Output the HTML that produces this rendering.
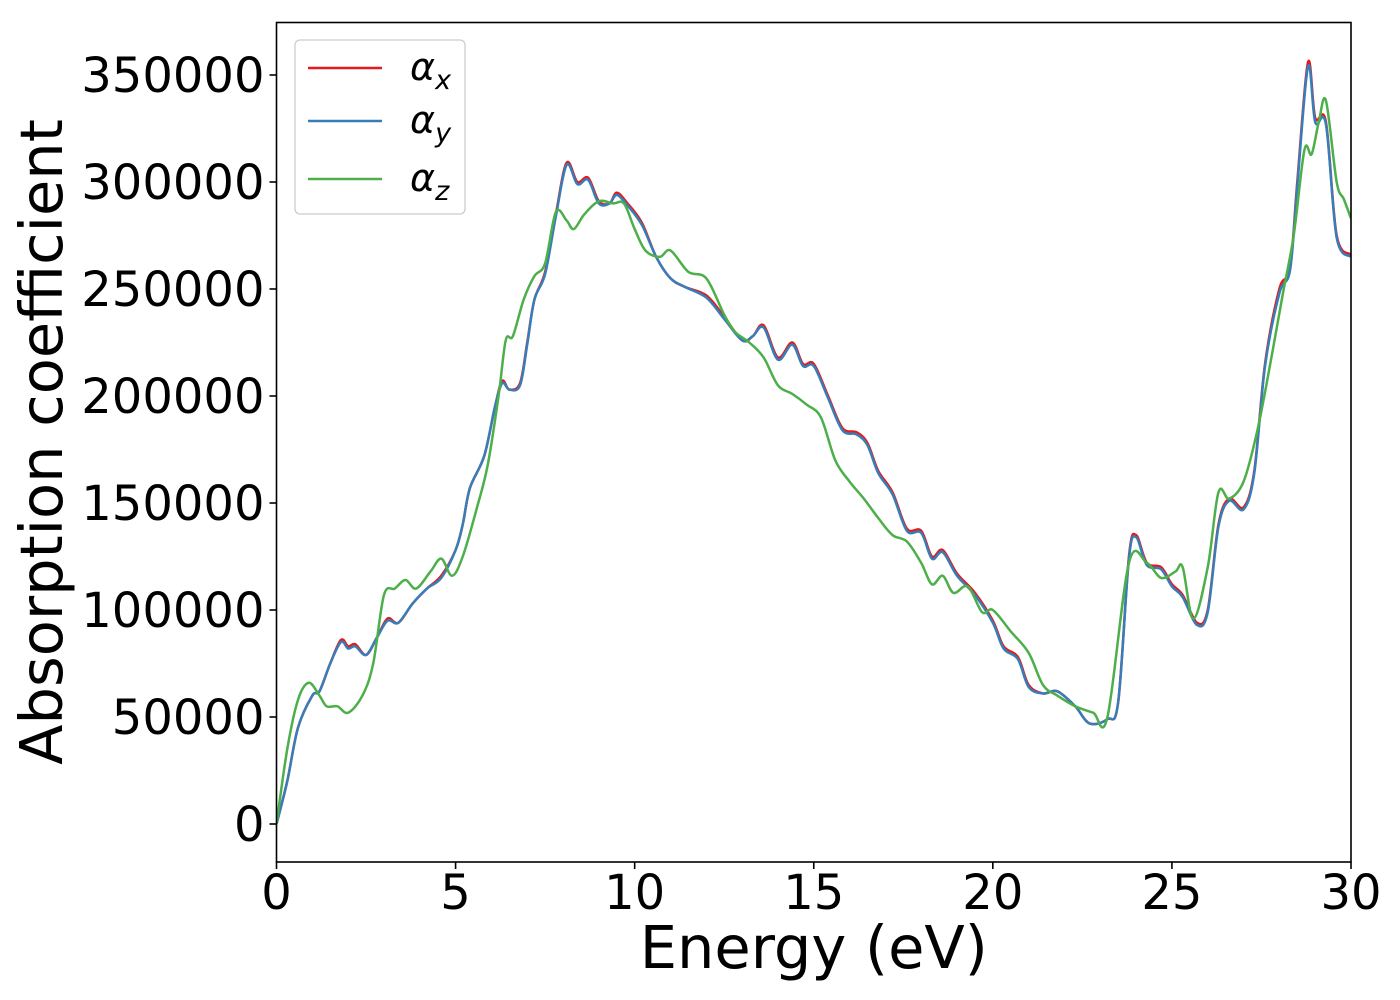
<!DOCTYPE html>
<html><head><meta charset="utf-8"><style>
html,body{margin:0;padding:0;background:#fff;}
svg{display:block;font-family:"DejaVu Sans","Liberation Sans",sans-serif;}
</style></head><body>
<svg id="chart" width="1400" height="1000" viewBox="0 0 1400 1000" xmlns="http://www.w3.org/2000/svg">
<g id="plot"></g>
</svg>
<script>
const xTicks = [0,5,10,15,20,25,30];
const yTicks = [0,50000,100000,150000,200000,250000,300000,350000];
const seriesNames = ["x","y","z"];
const energyX = [0,0.3,0.6,1,1.2,1.5,1.8,2.0,2.2,2.5,2.8,3.1,3.4,3.8,4.2,4.6,5.0,5.2,5.4,5.8,6.1,6.3,6.5,6.8,7.0,7.2,7.5,7.8,8.1,8.4,8.7,9.0,9.3,9.5,9.8,10.2,10.6,11.0,11.4,12.0,12.5,13.0,13.3,13.6,14.0,14.4,14.7,15.0,15.4,15.8,16.2,16.5,16.8,17.2,17.6,18.0,18.3,18.6,19.0,19.5,20.0,20.3,20.7,21.0,21.4,21.8,22.3,22.7,23.2,23.5,23.8,24.0,24.3,24.7,25.0,25.3,25.7,26.0,26.3,26.6,27.0,27.3,27.6,28.0,28.3,28.5,28.8,29.0,29.3,29.6,30];
const alphaX = [0,20000,45000,60000,62000,75000,86000,83000,84000,79000,87000,96000,94000,103000,110000,116000,128000,140000,157000,172000,195000,207000,203000,206000,225000,245000,258000,285000,309000,300000,302000,291000,290000,295000,290000,281000,265000,255000,251000,247000,237000,226000,228000,233000,218000,225000,215000,215000,200000,185000,183000,178000,165000,155000,138000,137000,125000,128000,117000,108000,95000,83000,78000,65000,61000,62000,55000,47000,49000,57000,125000,135000,122000,120000,112000,107000,94000,100000,140000,152000,148000,165000,215000,250000,260000,300000,356000,330000,328000,275000,266000];
const alphaY = [0,20000,45000,60000,62000,75000,85000,82000,83000,79000,87000,95000,94000,103000,110000,115000,128000,140000,157000,172000,195000,206000,203000,205000,224000,245000,257000,284000,308000,299000,301000,290000,290000,294000,289000,280000,265000,255000,251000,246000,236000,226000,228000,232000,217000,224000,214000,214000,199000,184000,182000,177000,164000,154000,137000,136000,124000,127000,116000,107000,94000,82000,77000,64000,61000,62000,55000,47000,49000,57000,124000,134000,121000,119000,111000,106000,93000,99000,139000,151000,147000,164000,214000,248000,259000,298000,354000,328000,327000,274000,265000];
const energyZ = [0,0.3,0.6,0.9,1.2,1.4,1.7,2.0,2.4,2.7,3.0,3.3,3.6,3.9,4.3,4.6,4.9,5.2,5.6,5.9,6.2,6.4,6.6,6.9,7.2,7.5,7.8,8.1,8.3,8.6,9.0,9.4,9.7,10.0,10.3,10.7,11.0,11.5,12.0,12.5,12.8,13.2,13.6,14.0,14.4,14.8,15.2,15.6,16.0,16.4,16.8,17.2,17.6,18.0,18.3,18.6,18.9,19.3,19.7,20.0,20.5,21.0,21.4,21.8,22.3,22.8,23.2,23.8,24.3,24.7,25.1,25.3,25.6,26.0,26.3,26.6,27.0,27.4,27.8,28.1,28.4,28.7,28.9,29.1,29.3,29.6,29.8,30];
const alphaZ = [0,35000,58000,66000,60000,55000,55000,52000,60000,75000,107000,110000,114000,110000,118000,124000,116000,125000,148000,168000,200000,226000,228000,245000,256000,262000,286000,282000,278000,285000,291000,290000,290000,278000,268000,265000,268000,258000,255000,238000,230000,225000,218000,205000,201000,196000,190000,170000,160000,152000,143000,135000,132000,122000,112000,116000,108000,111000,99000,100000,90000,80000,65000,60000,55000,52000,50000,122000,122000,115000,118000,120000,96000,120000,155000,152000,160000,185000,220000,248000,275000,315000,313000,328000,338000,300000,292000,283000];

const L=276.5,R=1351,T=22.5,B=862;
const X0=0,X1=30;
const Y0pix=824, Yper=749/350000;
function xs(v){return L+(v-X0)/(X1-X0)*(R-L);}
function ys(v){return Y0pix-v*Yper;}
const NS="http://www.w3.org/2000/svg";
const svg=document.getElementById('chart');
function mk(tag,attrs,parent){const e=document.createElementNS(NS,tag);for(const k in attrs)e.setAttribute(k,attrs[k]);(parent||svg).appendChild(e);return e;}

function smoothPath(xa,ya){
  const p=xa.map((x,i)=>[xs(x),ys(ya[i])]);
  let d="M"+p[0][0].toFixed(2)+","+p[0][1].toFixed(2);
  for(let i=0;i<p.length-1;i++){
    const p0=p[i-1]||p[i],p1=p[i],p2=p[i+1],p3=p[i+2]||p[i+1];
    const c1=[p1[0]+(p2[0]-p0[0])/6,p1[1]+(p2[1]-p0[1])/6];
    const c2=[p2[0]-(p3[0]-p1[0])/6,p2[1]-(p3[1]-p1[1])/6];
    d+=" C"+c1[0].toFixed(2)+","+c1[1].toFixed(2)+" "+c2[0].toFixed(2)+","+c2[1].toFixed(2)+" "+p2[0].toFixed(2)+","+p2[1].toFixed(2);
  }
  return d;
}
mk('defs',{}).innerHTML='<clipPath id="clip"><rect x="'+L+'" y="'+T+'" width="'+(R-L)+'" height="'+(B-T)+'"/></clipPath>';
const g=mk('g',{'clip-path':'url(#clip)'});
const lx=mk('path',{d:smoothPath(energyX,alphaX),fill:'none',stroke:'#e41a1c','stroke-width':2.5},g);


const ly=mk('path',{d:smoothPath(energyX,alphaY),fill:'none',stroke:'#377eb8','stroke-width':2.5},g);


const lz=mk('path',{d:smoothPath(energyZ,alphaZ),fill:'none',stroke:'#4daf4a','stroke-width':2.5},g);



const frame=mk('rect',{x:L,y:T,width:R-L,height:B-T,fill:'none',stroke:'#000','stroke-width':1.6});



xTicks.forEach(v=>{
  mk('line',{x1:xs(v),x2:xs(v),y1:B,y2:B+7,stroke:'#000','stroke-width':1.6});
  const t=mk('text',{x:xs(v),y:B+47,'font-size':48,'text-anchor':'middle',fill:'#000'});
  t.textContent=v;
  
  
});
yTicks.forEach(v=>{
  mk('line',{x1:L-7,x2:L,y1:ys(v),y2:ys(v),stroke:'#000','stroke-width':1.6});
  const t=mk('text',{x:L-12,y:ys(v)+17,'font-size':48,'text-anchor':'end',fill:'#000'});
  t.textContent=v;
  
  
});
const xt=mk('text',{x:(L+R)/2,y:968,'font-size':59,'text-anchor':'middle',fill:'#000'});
xt.textContent='Energy (eV)';


const yt=mk('text',{x:0,y:0,'font-size':59,'text-anchor':'middle',fill:'#000',transform:'translate(62,442) rotate(-90)'});
yt.textContent='Absorption coefficient';



const leg=mk('g',{});


mk('rect',{x:295,y:40,width:170,height:174,rx:5,fill:'#fff',stroke:'#ccc','stroke-width':1.3},leg);
const cols=['#e41a1c','#377eb8','#4daf4a'];
const ly0=[68,121,179];
seriesNames.forEach((s,i)=>{
  const e=mk('g',{},leg);
  
  
  mk('line',{x1:308,x2:382,y1:ly0[i],y2:ly0[i],stroke:cols[i],'stroke-width':2.5},e);
  const t=mk('text',{x:410,y:ly0[i]+12,'font-size':38,'font-style':'italic',fill:'#000'},e);
  t.innerHTML='α<tspan font-size="27" dy="9">'+s+'</tspan>';
});
</script>
</body></html>
